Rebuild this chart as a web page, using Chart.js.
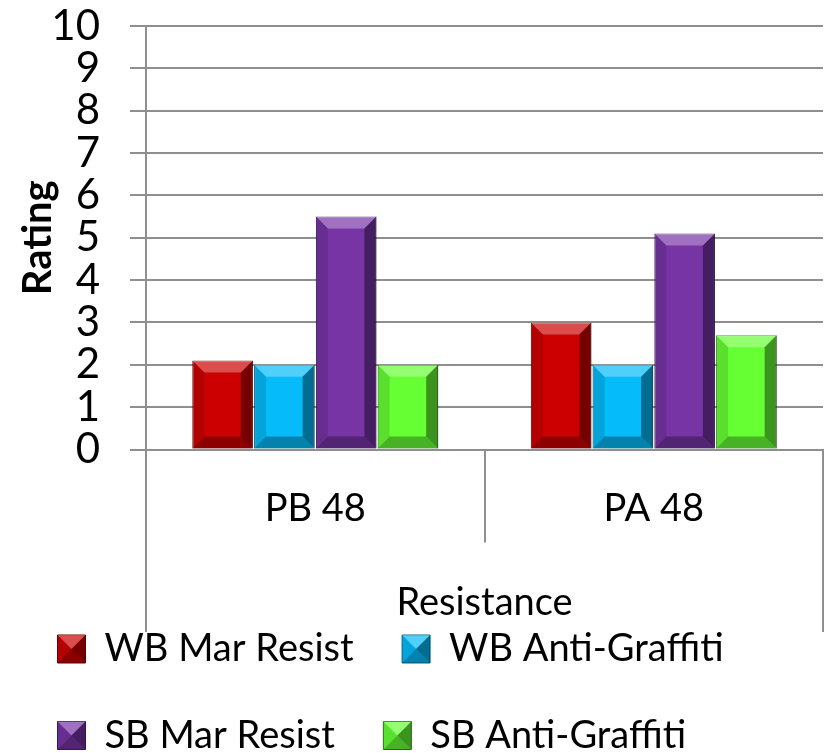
<!DOCTYPE html>
<html>
<head>
<meta charset="utf-8">
<title>Rating by resistance</title>
<script src="https://cdn.jsdelivr.net/npm/chart.js@4.4.0/dist/chart.umd.min.js"></script>
<style>
    html, body { margin: 0; padding: 0; background: #fff; }
    #wrap { width: 836px; height: 753px; }
</style>
</head>
<body>
<div id="wrap"><canvas id="ratingChart"></canvas></div>
<script>
// Data
const categories = ['PB 48', 'PA 48'];
const groupLabels = ['Resistance'];
const wbMarResist = [2.1, 3.0];
const wbAntiGraffiti = [2.0, 2.0];
const sbMarResist = [5.5, 5.1];
const sbAntiGraffiti = [2.0, 2.7];
const yMin = 0;
const yMax = 10;
const yStep = 1;

const FONT = 'Lato, "Open Sans", sans-serif';
const GRID = '#8f8f8f';

// One bar series
function series(label, data, fill, edge) {
    return {
        label: label,
        data: data,
        backgroundColor: fill,
        borderColor: edge,
        borderWidth: 1,
        borderSkipped: 'start',
        xAxisID: 'x',
        yAxisID: 'y',
        categoryPercentage: 0.73,
        barPercentage: 0.98
    };
}

// Bevel shading on top of a rectangle (light top, dark right and bottom)
function shadeFace(c, pts, color) {
    c.beginPath();
    c.moveTo(pts[0][0], pts[0][1]);
    for (let k = 1; k < pts.length; k++) c.lineTo(pts[k][0], pts[k][1]);
    c.closePath();
    c.fillStyle = color;
    c.fill();
}

function bevel(c, l, t, r, b, size) {
    const d = Math.min(size, (b - t) / 2, (r - l) / 2);
    shadeFace(c, [[l, t], [r, t], [r - d, t + d], [l + d, t + d]], 'rgba(255,255,255,0.30)');
    shadeFace(c, [[l, b], [r, b], [r - d, b - d], [l + d, b - d]], 'rgba(0,0,0,0.30)');
    shadeFace(c, [[l, t], [l + d, t + d], [l + d, b - d], [l, b]], 'rgba(0,0,0,0.12)');
    shadeFace(c, [[r, t], [r - d, t + d], [r - d, b - d], [r, b]], 'rgba(0,0,0,0.42)');
}

const bevelPlugin = {
    id: 'bevel',
    afterDatasetsDraw(chart) {
        const c = chart.ctx;
        c.save();
        chart.data.datasets.forEach((ds, i) => {
            chart.getDatasetMeta(i).data.forEach(bar => {
                const p = bar.getProps(['x', 'y', 'base', 'width'], true);
                bevel(c, p.x - p.width / 2, Math.min(p.y, p.base),
                      p.x + p.width / 2, Math.max(p.y, p.base), 12);
            });
        });
        c.restore();
    },
    afterDraw(chart) {
        // same shading on the legend boxes
        const legend = chart.legend;
        if (!legend || !legend.legendHitBoxes) return;
        const box = legend.options.labels.boxWidth;
        const c = chart.ctx;
        c.save();
        legend.legendHitBoxes.forEach(hb => {
            const top = hb.top + (hb.height - box) / 2;
            bevel(c, hb.left, top, hb.left + box, top + box, box / 2);
        });
        c.restore();
    }
};

var ctx = document.getElementById('ratingChart').getContext('2d');
var ratingChart = new Chart(ctx, {
    type: 'bar',
    data: {
        labels: categories,
        datasets: [
            series('WB Mar Resist', wbMarResist, '#cc0000', '#6e0000'),
            series('WB Anti-Graffiti', wbAntiGraffiti, '#05bbfa', '#03698c'),
            series('SB Mar Resist', sbMarResist, '#7634a5', '#3e1a58'),
            series('SB Anti-Graffiti', sbAntiGraffiti, '#66ff33', '#2f7a17')
        ]
    },
    plugins: [bevelPlugin],
    options: {
        responsive: true,
        maintainAspectRatio: false,
        animation: false,
        layout: {
            padding: { left: 9, right: 13, top: 26, bottom: -11.5 }
        },
        plugins: {
            tooltip: { enabled: false },
            legend: {
                position: 'bottom',
                align: 'start',
                labels: {
                    color: '#000',
                    boxWidth: 28,
                    boxHeight: 28,
                    padding: 48.5,
                    font: { family: FONT, size: 38 }
                }
            }
        },
        scales: {
            // categories, with the dividers between them
            x: {
                type: 'category',
                offset: true,
                grid: {
                    offset: true,
                    drawOnChartArea: false,
                    tickLength: 93,
                    color: GRID,
                    lineWidth: 2
                },
                border: { display: true, color: GRID, width: 2 },
                ticks: {
                    color: '#000',
                    padding: -57,
                    font: { family: FONT, size: 38 }
                },
                title: {
                    display: true,
                    text: groupLabels[0],
                    color: '#000',
                    padding: { top: 0, bottom: -86 },
                    font: { family: FONT, size: 38 }
                },
                afterFit: function(scale) {
                    scale.height = 90;
                }
            },
            // outer level of the category axis: only its side lines
            x2: {
                type: 'category',
                position: 'bottom',
                labels: groupLabels,
                offset: true,
                weight: 1,
                grid: {
                    offset: true,
                    drawOnChartArea: false,
                    tickLength: 92.5,
                    color: GRID,
                    lineWidth: 2
                },
                border: { display: false },
                ticks: { display: false },
                afterFit: function(scale) {
                    scale.height = 42;
                }
            },
            y: {
                min: yMin,
                max: yMax,
                ticks: {
                    stepSize: yStep,
                    autoSkip: false,
                    color: '#000',
                    padding: 30,
                    font: { family: FONT, size: 42 }
                },
                grid: {
                    color: GRID,
                    lineWidth: 2,
                    tickLength: 16
                },
                border: { display: true, color: GRID, width: 2 },
                title: {
                    display: true,
                    text: 'Rating',
                    color: '#000',
                    padding: { top: 5, bottom: 0 },
                    font: { family: FONT, size: 40, weight: 'bold' }
                },
                afterFit: function(scale) {
                    scale.width = 137;
                    // tick padding should not push the plot down
                    scale.paddingTop = 0;
                    scale.paddingBottom = 0;
                }
            }
        }
    }
});
</script>
</body>
</html>
